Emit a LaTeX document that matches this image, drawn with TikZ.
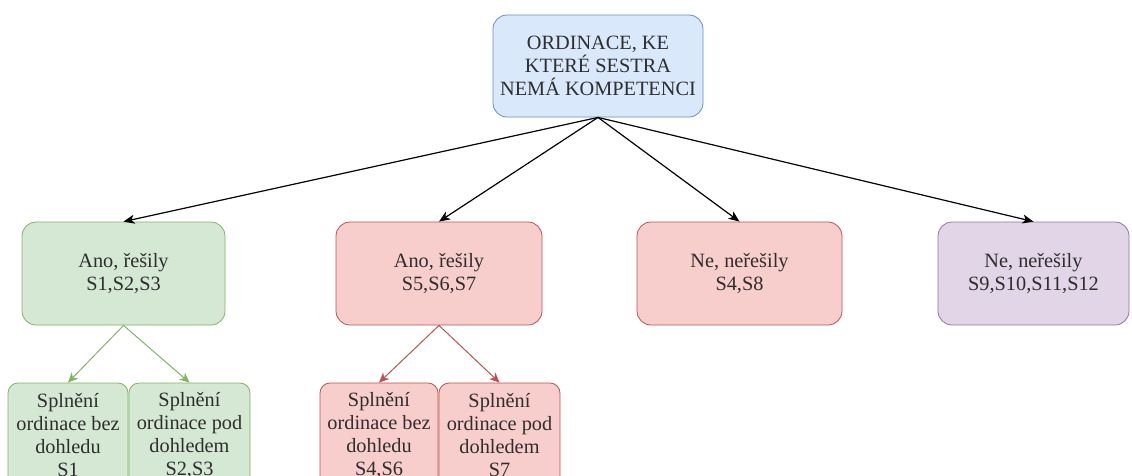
\documentclass[tikz,border=0pt]{standalone}
\usepackage{fontspec}
\setmainfont{Liberation Serif}
\usetikzlibrary{arrows.meta}
\definecolor{bluefill}{HTML}{DAE8FC}
\definecolor{blueline}{HTML}{6C8EBF}
\definecolor{greenfill}{HTML}{D5E8D4}
\definecolor{greenline}{HTML}{82B366}
\definecolor{redfill}{HTML}{F8CECC}
\definecolor{redline}{HTML}{B85450}
\definecolor{violetfill}{HTML}{E1D5E7}
\definecolor{violetline}{HTML}{9673A6}
\begin{document}
\begin{tikzpicture}[x=1pt,y=-1pt]
		\tikzstyle{every node}+=[inner sep=0pt, align=center, font=\fontsize{20.3}{23}\selectfont, text=black!82]
		\tikzstyle{box}=[draw, rounded corners=14pt, line width=0.8pt]
		\tikzstyle{subbox}=[draw, rounded corners=10pt, line width=0.8pt, minimum height=104pt]
		\tikzstyle{link}=[line width=1.2pt, -{Stealth[length=11pt,width=9pt,inset=3pt]}]
		\tikzstyle{sublink}=[line width=1pt, -{Stealth[length=10pt,width=9pt,inset=3pt]}]
		\useasboundingbox (0,0) rectangle (1132,475);
		\clip (0,0) rectangle (1132,475);
		% top
		\node [box, fill=bluefill, draw=blueline, minimum width=210pt, minimum height=102pt] (top) at (598,66) {ORDINACE, KE\\KTERÉ SESTRA\\NEMÁ KOMPETENCI};
		% answers
		\node [box, fill=greenfill, draw=greenline, minimum width=203pt, minimum height=103pt] (yesA) at (123.5,273.5) {Ano, řešily\\S1,S2,S3};
		\node [box, fill=redfill, draw=redline, minimum width=206pt, minimum height=103pt] (yesB) at (439,273.5) {Ano, řešily\\S5,S6,S7};
		\node [box, fill=redfill, draw=redline, minimum width=205pt, minimum height=103pt] (noA) at (739.5,273.5) {Ne, neřešily\\S4,S8};
		\node [box, fill=violetfill, draw=violetline, minimum width=191pt, minimum height=103pt] (noB) at (1033.5,273.5) {Ne, neřešily\\S9,S10,S11,S12};
		% details
		\node [subbox, fill=greenfill, draw=greenline, minimum width=120pt] (yesA1) at (68,435) {Splnění\\ordinace bez\\dohledu\\S1};
		\node [subbox, fill=greenfill, draw=greenline, minimum width=121pt] (yesA2) at (189.5,435) {Splnění\\ordinace pod\\dohledem\\S2,S3};
		\node [subbox, fill=redfill, draw=redline, minimum width=118pt] (yesB1) at (379,435) {Splnění\\ordinace bez\\dohledu\\S4,S6};
		\node [subbox, fill=redfill, draw=redline, minimum width=121pt] (yesB2) at (499.5,435) {Splnění\\ordinace pod\\dohledem\\S7};
		% arrows
		\draw [link] (top.south) -- (yesA.north);
		\draw [link] (top.south) -- (yesB.north);
		\draw [link] (top.south) -- (noA.north);
		\draw [link] (top.south) -- (noB.north);
		\draw [sublink, greenline] (yesA.south) -- (yesA1.north);
		\draw [sublink, greenline] (yesA.south) -- (yesA2.north);
		\draw [sublink, redline] (yesB.south) -- (yesB1.north);
		\draw [sublink, redline] (yesB.south) -- (yesB2.north);
	\end{tikzpicture}
\end{document}
